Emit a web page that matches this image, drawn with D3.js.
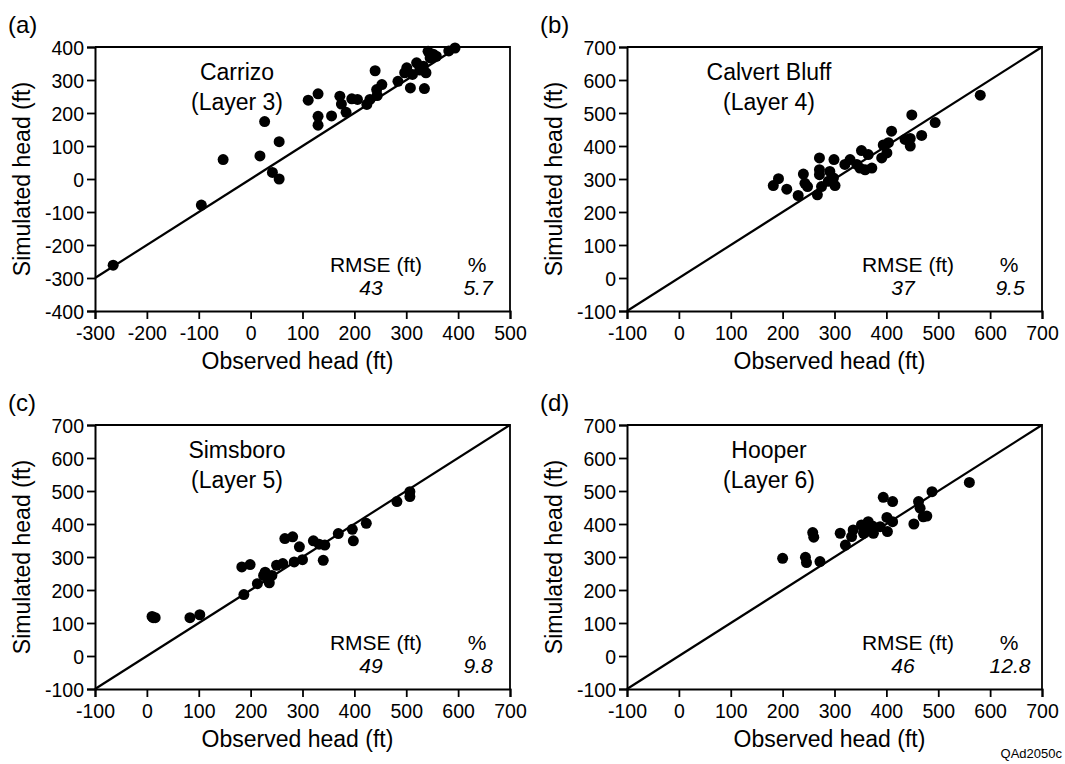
<!DOCTYPE html>
<html><head><meta charset="utf-8">
<script src="https://cdn.jsdelivr.net/npm/d3@7"></script>
<style>
body{margin:0;background:#fff;}
text{font-family:"Liberation Sans",Arial,sans-serif;fill:#000;}
</style></head>
<body>
<svg id="chart" width="1065" height="764"></svg>
<script>
// ---- data (observed, simulated) ----
const carrizoObs = [-265,-95,-53,18,27,55,42,55,111,130,130,130,156,172,175,184,195,206,224,240,230,243,253,244,284,297,308,335,301,320,338,333,342,352,358,346,382,394,312,326];
const carrizoSim = [-261,-79,59,70,174,113,20,0,239,258,190,163,191,251,227,202,243,241,226,328,241,271,286,253,296,322,276,274,337,352,322,342,387,378,372,367,388,397,317,330];

const calvertObs = [581,449,494,410,468,446,436,446,404,394,401,391,352,365,359,372,330,320,343,349,271,299,271,271,291,298,301,288,275,267,240,243,248,230,208,192,182];
const calvertSim = [554,494,471,445,432,423,420,400,410,403,379,364,386,374,328,333,359,344,344,333,364,359,328,313,323,303,280,293,277,252,315,287,277,250,269,301,280];

const simsboroObs = [10,12,16,83,102,187,183,199,213,228,231,236,225,241,250,262,266,281,294,284,300,321,332,343,340,369,396,398,423,482,507,507];
const simsboroSim = [120,116,116,116,125,186,270,277,219,254,239,222,244,244,275,280,356,361,331,285,292,349,339,336,290,371,384,349,402,468,498,483];

const hooperObs = [560,488,462,465,471,478,453,394,412,401,412,402,388,375,365,352,356,336,333,311,321,258,260,200,244,246,272,362,373];
const hooperSim = [526,498,468,448,422,424,400,481,468,420,407,377,392,372,407,397,372,382,362,372,336,374,360,296,299,283,286,387,394];

const panelLabels = ["(a)","(b)","(c)","(d)"];
const unitNames = ["Carrizo","Calvert Bluff","Simsboro","Hooper"];
const layerNames = ["(Layer 3)","(Layer 4)","(Layer 5)","(Layer 6)"];
const rmseValues = ["43","37","49","46"];
const pctValues = ["5.7","9.5","9.8","12.8"];
const xTicksA = [-300,-200,-100,0,100,200,300,400,500];
const yTicksA = [-400,-300,-200,-100,0,100,200,300,400];
const ticksBCD = [-100,0,100,200,300,400,500,600,700];

const panels = [
  {obs:carrizoObs, sim:carrizoSim, xd:[-300,500], yd:[-400,400], xt:xTicksA, yt:yTicksA, left:95, top:47},
  {obs:calvertObs, sim:calvertSim, xd:[-100,700], yd:[-100,700], xt:ticksBCD, yt:ticksBCD, left:627, top:47},
  {obs:simsboroObs, sim:simsboroSim, xd:[-100,700], yd:[-100,700], xt:ticksBCD, yt:ticksBCD, left:95, top:425},
  {obs:hooperObs, sim:hooperSim, xd:[-100,700], yd:[-100,700], xt:ticksBCD, yt:ticksBCD, left:627, top:425}
];
const W = 415, H = 264;

const svg = d3.select("#chart");
const fmt = d => String(d);

panels.forEach((p,i)=>{
  const g = svg.append("g").attr("transform",`translate(${p.left},${p.top})`);
  const x = d3.scaleLinear().domain(p.xd).range([0,W]);
  const y = d3.scaleLinear().domain(p.yd).range([H,0]);

  // frame (top & right)
  g.append("path").attr("d",`M0,0H${W}V${H}`).attr("fill","none").attr("stroke","#000").attr("stroke-width",1.8);

  const xa = g.append("g").attr("transform",`translate(0,${H})`)
    .call(d3.axisBottom(x).tickValues(p.xt).tickSize(8).tickPadding(4).tickFormat(fmt));
  const ya = g.append("g")
    .call(d3.axisLeft(y).tickValues(p.yt).tickSize(8).tickPadding(3).tickFormat(fmt));
  [xa,ya].forEach(a=>{
    a.select(".domain").attr("stroke","#000").attr("stroke-width",2);
    a.selectAll(".tick line").attr("stroke","#000").attr("stroke-width",1.8);
    a.selectAll(".tick text").style("font-size","19.5px").style("font-family","Liberation Sans, Arial, sans-serif").attr("fill","#000");
  });
  ya.selectAll(".tick text").attr("dy","0.36em");
  xa.selectAll(".tick text").attr("dy","0.85em");

  // 1:1 line
  const lo = Math.max(p.xd[0],p.yd[0]), hi = Math.min(p.xd[1],p.yd[1]);
  g.append("line").attr("x1",x(lo)).attr("y1",y(lo)).attr("x2",x(hi)).attr("y2",y(hi))
    .attr("stroke","#000").attr("stroke-width",2.2);

  // points
  g.selectAll("circle.pt").data(p.obs.map((o,k)=>[o,p.sim[k]])).enter().append("circle")
    .attr("class","pt").attr("cx",d=>x(d[0])).attr("cy",d=>y(d[1])).attr("r",5.5).attr("fill","#000");

  // unit label
  g.append("text").attr("x",142).attr("y",25).attr("text-anchor","middle").attr("dominant-baseline","central")
    .style("font-size","23px").text(unitNames[i]);
  g.append("text").attr("x",142).attr("y",55).attr("text-anchor","middle").attr("dominant-baseline","central")
    .style("font-size","23px").text(layerNames[i]);

  // RMSE box
  g.append("text").attr("x",281).attr("y",217).attr("text-anchor","middle").attr("dominant-baseline","central")
    .style("font-size","21px").text("RMSE (ft)");
  g.append("text").attr("x",382).attr("y",217).attr("text-anchor","middle").attr("dominant-baseline","central")
    .style("font-size","21px").text("%");
  g.append("text").attr("x",276).attr("y",240).attr("text-anchor","middle").attr("dominant-baseline","central")
    .style("font-size","21px").style("font-style","italic").text(rmseValues[i]);
  g.append("text").attr("x",383).attr("y",240).attr("text-anchor","middle").attr("dominant-baseline","central")
    .style("font-size","21px").style("font-style","italic").text(pctValues[i]);

  // axis titles
  g.append("text").attr("x",W/2-5).attr("y",H+50).attr("text-anchor","middle").attr("dominant-baseline","central")
    .style("font-size","23px").text("Observed head (ft)");
  g.append("text").attr("transform",`translate(${-73},${H/2}) rotate(-90)`).attr("text-anchor","middle").attr("dominant-baseline","central")
    .style("font-size","23px").text("Simulated head (ft)");

  // panel label
  g.append("text").attr("x",-87).attr("y",-23).attr("dominant-baseline","central")
    .style("font-size","24px").text(panelLabels[i]);
});

svg.append("text").attr("x",1062).attr("y",753).attr("text-anchor","end").attr("dominant-baseline","central")
  .style("font-size","13px").text("QAd2050c");
</script>
</body></html>
